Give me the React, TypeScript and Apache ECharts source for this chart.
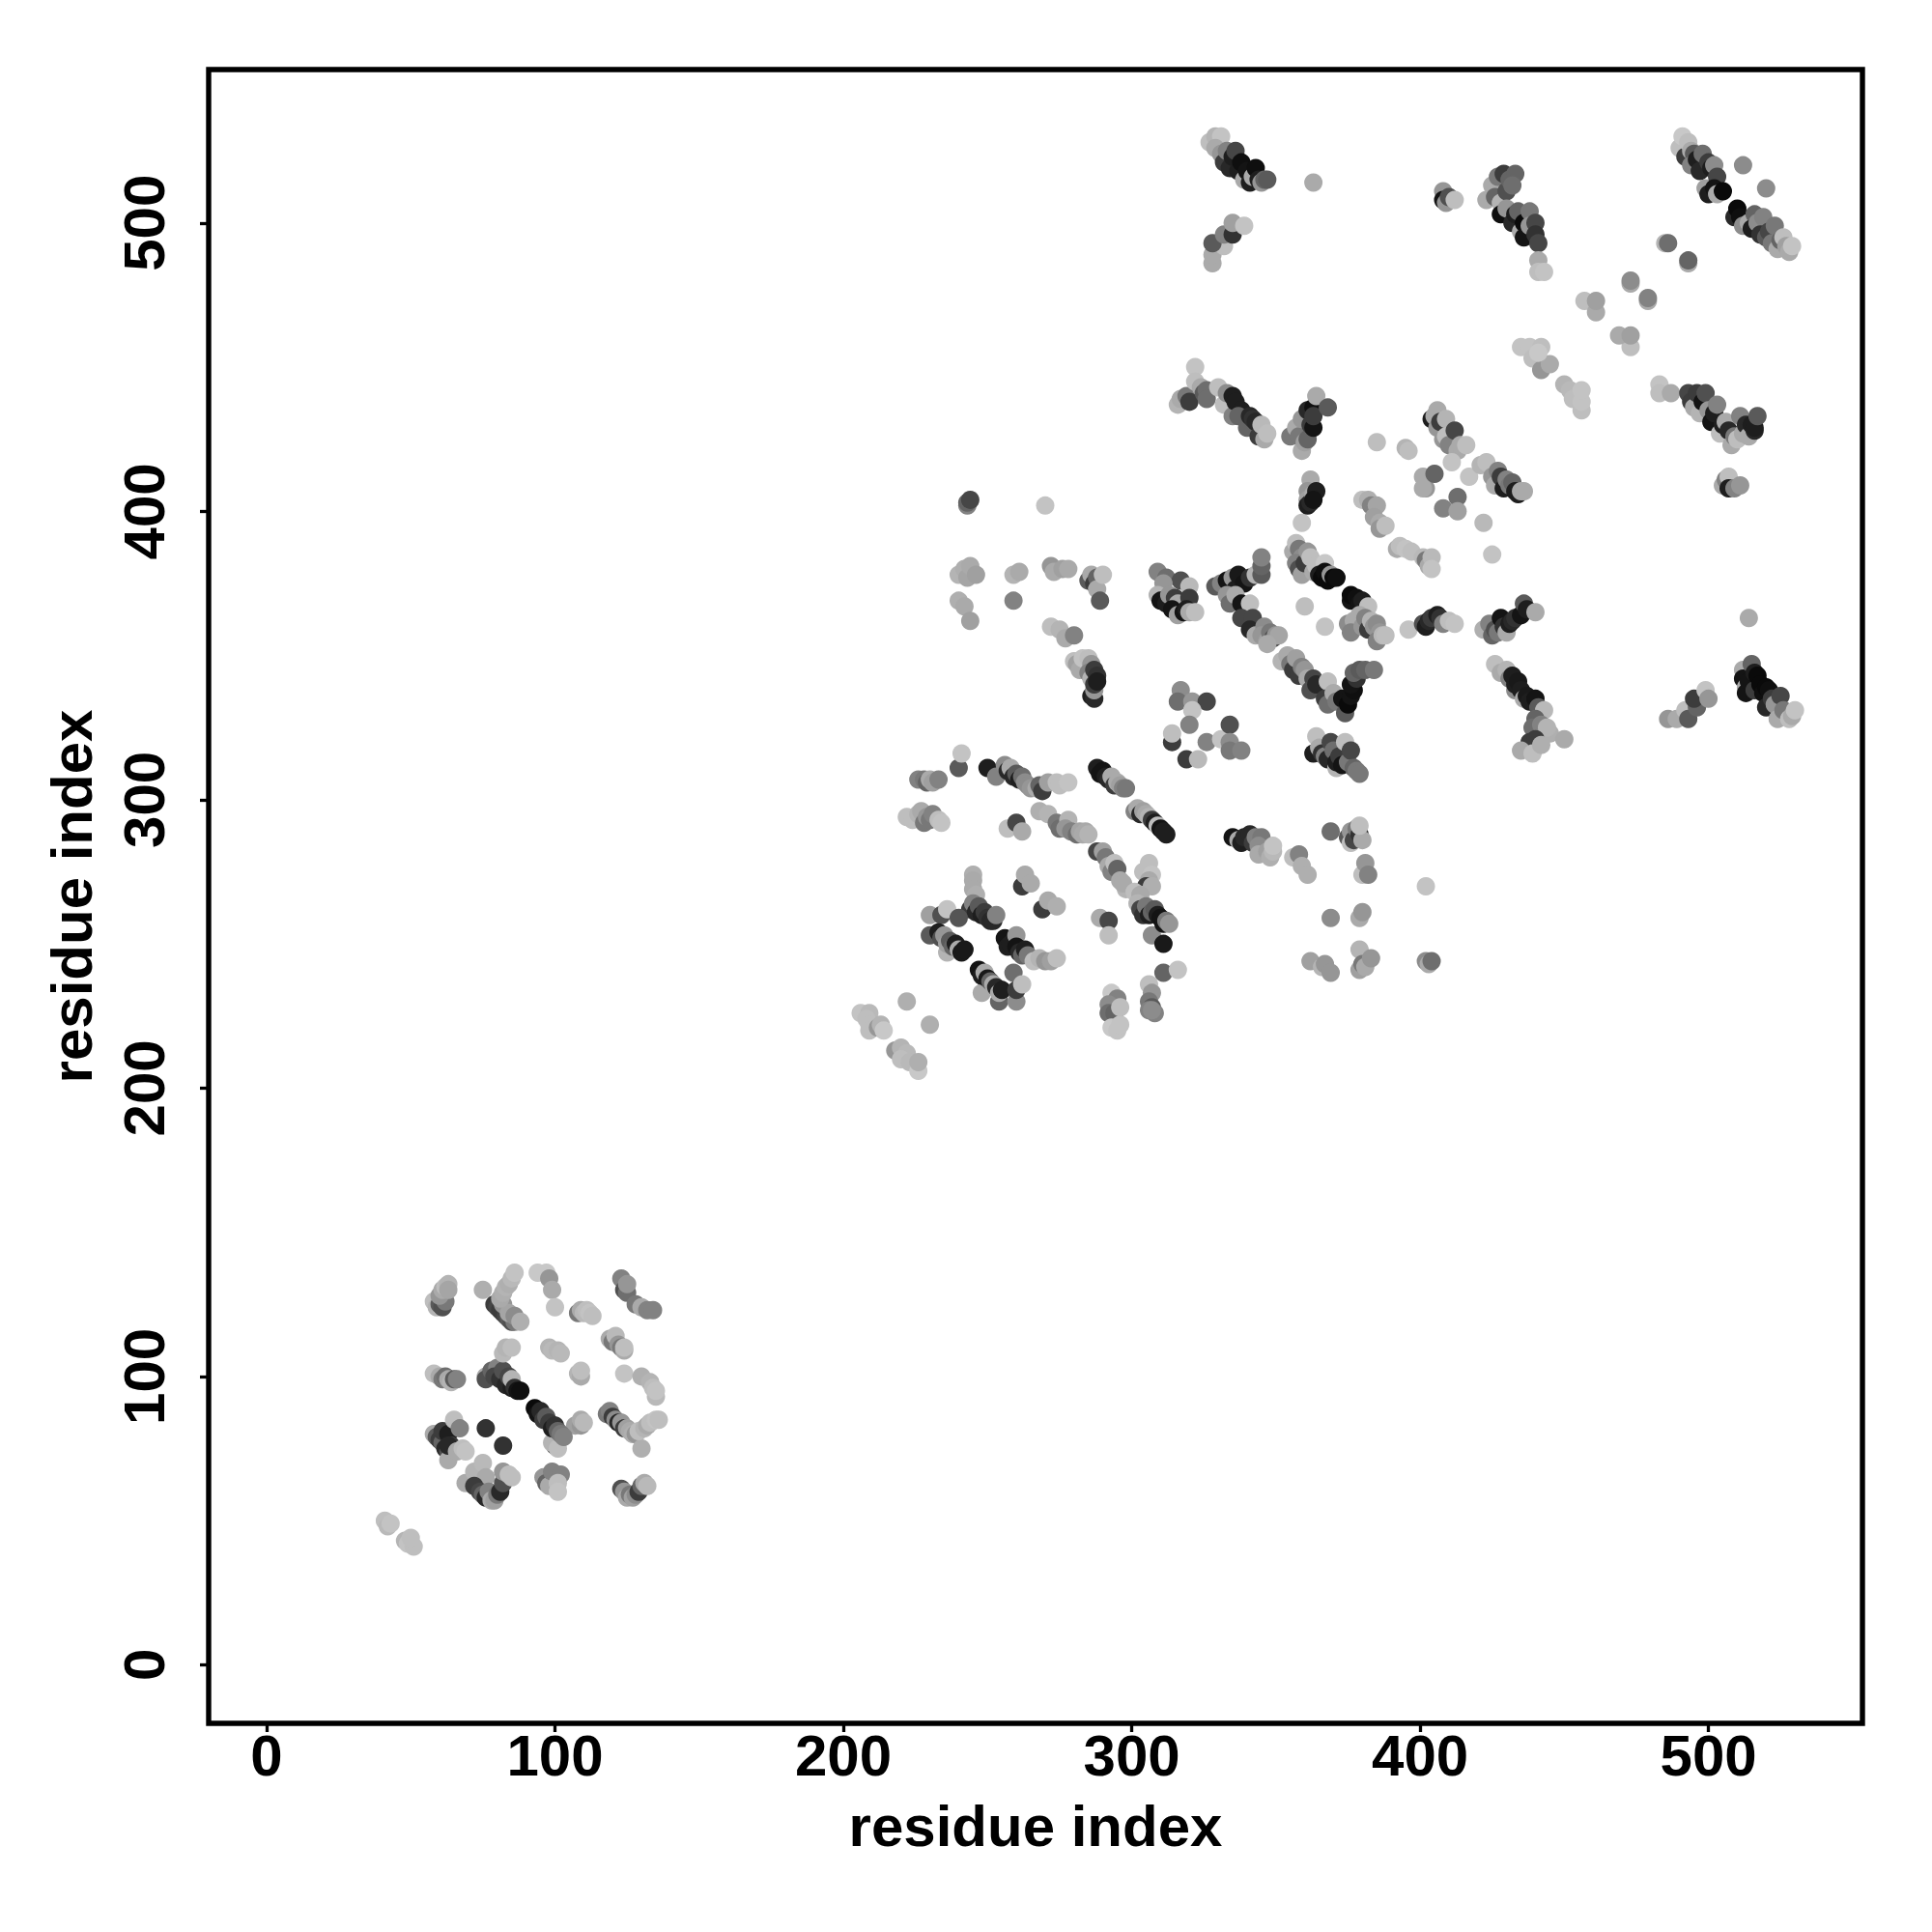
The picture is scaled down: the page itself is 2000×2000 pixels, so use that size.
import React, { useEffect, useRef } from "react";
import * as echarts from "echarts";

type P = [number, number, number];

const tickLabels = [0, 100, 200, 300, 400, 500];
const axisTitle = "residue index";

// [residue x, residue y, grey level]
const domainOneLow: P[] = [
  [41,50,190],[42,48,185],[43,49,195],[48,43,180],[49,42,195],[51,41,190],[50,44,190],
  [58,80,170],[59,79,90],[60,78,60],[61,77,100],[62,75,40],[63,74,80],[61,81,60],[63,80,30],[64,76,60],[63,71,170],[65,85,190],[67,82,130],[63,76,40],[66,74,170],[68,75,190],[69,74,195],
  [76,82,50],[82,76,50],
  [69,63,170],[72,67,180],[75,70,185],[76,65,170],[72,62,60],[74,60,70],[75,59,100],[76,58,40],[77,60,130],[78,57,170],[79,57,160],[80,59,120],[81,60,40],[82,63,80],[82,67,150],[84,66,190],[85,65,190],
  [96,65,150],[97,63,100],[98,62,170],[99,67,130],[102,66,130],[101,63,190],[101,60,195],
  [123,61,80],[124,60,150],[125,58,170],[126,59,120],[127,58,160],[128,59,140],[129,60,60],[130,62,100],[131,63,170],[132,62,185],
  [118,87,120],[119,88,130],[120,86,60],[121,85,140],[122,84,40],[123,84,150],[124,82,60],[125,82,160],[126,81,170],[127,80,175],[128,80,150],[130,75,175],[129,81,190],[131,82,180],[132,83,170],[133,84,190],[135,85,195],[136,85,190],
  [107,83,160],[109,83,150],[109,85,170],[110,84,185],
];
const domainOneMid: P[] = [
  [58,101,190],[60,100,170],[61,99,120],[62,100,110],[63,99,170],[64,98,180],[65,99,90],[66,99,130],
  [76,100,170],[76,99,80],[78,102,100],[80,103,130],[79,100,70],[81,99,50],[82,102,80],[83,97,40],[84,100,70],[85,96,30],[85,99,180],[86,96,50],[87,95,20],[88,95,15],
  [100,76,70],[99,77,180],[101,75,190],[93,89,10],[94,87,20],[95,88,40],[96,85,60],[97,86,90],[98,84,60],[99,82,30],[100,83,50],[101,81,100],[102,80,120],[103,79,130],
  [82,108,185],[83,110,180],[85,110,190],[98,110,180],[99,109,185],[101,109,180],[102,108,185],[108,101,180],[109,100,170],[109,102,190],
  [119,113,170],[120,112,120],[121,114,185],[122,111,150],[123,110,120],[124,109,170],[124,110,190],
  [124,101,195],[130,100,175],[133,98,180],[135,93,185],[134,96,190],[135,95,195],
];
const domainOneHigh: P[] = [
  [58,126,190],[59,124,180],[60,125,90],[61,124,80],[62,126,120],[60,128,150],[61,130,170],[62,131,190],[63,132,180],[63,130,165],
  [75,130,175],[79,125,60],[80,124,70],[81,123,60],[82,122,60],[83,121,70],[84,120,90],[85,119,80],[86,119,120],[82,125,150],[84,122,165],[86,121,140],[88,119,175],[81,127,170],[82,129,175],[83,131,180],[84,132,175],[85,134,185],[86,136,195],
  [94,136,200],[97,136,200],[98,134,150],[99,130,170],[100,124,195],
  [108,122,120],[109,123,170],[110,122,185],[111,123,190],[112,122,195],[113,121,190],
  [123,134,130],[124,130,80],[125,129,110],[125,132,150],[128,125,120],[130,124,170],[132,123,130],[134,123,130],
];
const tailRows: P[] = [
  [206,226,195],[209,226,185],[208,224,190],[209,222,190],[209,220,190],[212,221,150],[213,222,180],[214,220,200],
  [222,230,175],[230,222,175],
  [218,213,150],[220,214,180],[222,212,185],[220,210,190],[223,209,185],[226,206,200],[226,209,175],
  [293,233,200],[295,231,130],[292,229,140],[292,226,110],[294,226,100],[293,221,200],[295,220,195],[296,222,195],[296,228,190],
  [306,236,190],[307,233,150],[306,230,120],[307,228,90],[306,227,130],[308,226,130],[307,227,140],
];
const upperArc: P[] = [
  [226,307,130],[228,307,120],[229,306,100],[230,307,170],[231,306,160],[233,307,130],[240,311,90],[241,316,195],
  [222,294,190],[224,293,190],[226,295,180],[227,296,170],[228,292,120],[229,294,150],[230,293,120],[231,295,130],[233,293,190],[234,292,195],
  [250,311,30],[253,308,130],[256,312,140],[257,310,40],[258,311,170],[259,308,40],[260,309,90],[261,307,30],[262,308,110],[263,306,140],[264,305,140],[265,304,150],[267,304,170],
  [268,305,100],[269,303,60],[271,306,160],[274,306,190],[275,305,190],[278,306,195],
  [257,290,190],[260,292,70],[262,289,170],
  [268,296,175],[271,295,180],[274,292,120],[275,290,110],[278,293,180],[277,290,150],[279,289,130],[281,288,110],[282,289,165],[283,288,170],[284,289,170],[285,288,180],
  [288,311,30],[289,309,20],[290,310,20],[291,308,30],[292,307,40],[293,308,170],[294,305,60],[295,306,170],[296,305,160],[297,304,130],[298,304,120],
  [301,296,130],[302,297,170],[303,295,40],[304,296,160],[305,295,170],[306,294,180],[307,293,60],[308,292,30],[309,291,190],[310,290,20],[311,289,30],[312,288,30],
  [288,282,70],[290,282,160],[291,280,120],[292,277,170],[293,275,130],[294,278,190],[295,276,100],[296,272,170],[298,269,180],[297,271,170],
];
const lowerArc: P[] = [
  [245,274,175],[245,272,170],[245,269,170],[246,267,175],[244,262,60],[245,264,130],[246,261,40],[247,263,90],[248,260,30],[249,261,60],[250,259,50],[251,258,40],[252,258,40],[253,260,130],
  [230,260,160],[234,260,80],[236,262,195],[240,259,85],
  [230,253,90],[233,254,30],[234,252,80],[235,253,150],[236,247,180],[236,250,160],[237,251,90],[238,249,100],[239,250,30],[240,248,170],[241,247,25],[242,248,25],
  [262,270,60],[263,274,170],[265,271,170],[269,262,60],[271,265,170],[274,263,175],
  [256,252,20],[257,249,30],[258,250,30],[260,253,150],[260,249,20],[261,247,40],[262,246,100],[263,248,30],[264,246,120],[266,244,190],[268,245,180],[270,244,150],[272,244,160],[274,245,190],
  [248,233,170],[247,241,20],[248,239,30],[249,240,170],[250,238,25],[251,237,100],[252,236,170],[254,230,100],[253,235,40],[254,233,170],[255,234,30],
  [259,240,110],[260,230,140],[260,234,60],[262,236,190],
  [289,259,170],[292,258,70],[292,253,190],
  [306,278,190],[304,275,190],[307,274,195],[306,272,170],[305,270,60],[307,270,175],[301,268,190],[303,267,170],[302,264,180],[303,262,70],[304,260,50],[305,263,120],[306,260,30],[307,261,100],[308,262,90],[309,260,30],[310,259,20],[307,253,140],[311,257,20],[312,258,120],[313,257,150],
  [311,250,25],[311,240,100],[316,241,195],
];
const farLeftColumn: P[] = [
  [243,402,130],[243,403,100],[244,404,70],[270,402,195],
  [240,378,180],[242,380,175],[243,377,165],[244,381,170],[246,378,160],[240,369,175],[242,367,170],[244,362,160],
  [259,378,180],[261,379,170],[259,369,130],
  [272,381,150],[273,379,170],[276,380,160],[278,380,170],
  [272,360,190],[275,359,180],[277,356,170],[280,357,130],[280,348,190],[281,347,160],[282,345,170],[283,349,195],[285,349,190],[286,347,150],
  [285,344,130],[286,342,180],[286,336,30],[287,335,40],[287,338,150],[287,340,60],[287,345,60],[288,343,50],[288,341,30],
  [285,376,90],[286,378,170],[287,375,60],[288,377,100],[288,373,170],[290,378,190],[289,369,90],
];
const centreStar: P[] = [
  [309,379,130],[312,377,110],[317,376,80],[311,375,150],[309,371,180],[310,369,20],[312,368,30],[313,371,150],[315,370,60],[316,368,170],[314,366,20],[316,364,160],[318,365,20],[320,374,185],[320,370,60],[319,366,30],[320,365,170],[322,365,190],
  [329,374,90],[331,375,130],[333,376,20],[335,377,150],[336,373,30],[337,378,25],[339,375,20],[341,377,50],[343,378,180],[345,378,90],[345,381,100],[345,384,130],[333,371,150],[334,368,110],[336,371,170],[338,368,20],[341,368,190],
  [338,363,70],[342,363,70],[341,359,40],[343,357,170],[346,360,140],[345,357,150],[347,355,160],[348,358,120],[349,356,80],[350,357,150],[351,357,165],[347,354,170],
  [356,386,170],[357,389,190],[358,387,120],[359,384,140],[357,382,130],[358,380,80],[359,378,160],[360,382,60],[361,386,150],[362,384,190],[363,379,170],[364,381,190],[367,382,200],
  [365,378,30],[366,377,10],[367,379,15],[368,376,10],[369,378,150],[370,377,10],[371,377,15],
  [359,396,195],[362,411,170],[361,407,150],[361,404,160],[361,402,30],[362,403,40],[363,406,170],[364,407,30],[363,404,20],
  [360,367,190],[367,360,195],
  [376,369,20],[376,371,10],[378,370,15],[379,368,20],[380,369,30],[382,367,190],
  [375,361,140],[377,362,170],[376,358,130],[379,364,170],[380,360,150],[381,363,130],[382,359,60],[383,362,180],[384,360,150],[385,361,140],[386,358,150],[385,355,130],[387,357,185],[388,357,190],
  [396,359,195],
  [401,361,80],[402,360,30],[403,362,40],[404,363,60],[406,364,30],[407,363,50],[408,361,130],[410,362,190],[412,361,195],
  [422,359,175],[424,361,130],[425,357,100],[426,359,80],[427,358,120],[428,363,20],[429,360,50],[430,358,170],[431,361,30],[432,362,40],[433,363,50],[435,364,20],[436,368,90],[437,366,30],[440,365,170],
];
const centreLower: P[] = [
  [352,348,180],[354,350,170],[355,347,120],[356,345,60],[357,349,160],[358,343,60],[359,346,130],[360,345,150],[361,342,170],[363,342,70],[362,338,80],[364,340,40],[368,341,190],[367,335,60],[368,333,110],[370,337,170],[371,334,120],[373,335,20],[374,330,90],[375,333,10],[376,336,20],[377,338,15],[376,340,20],[378,342,50],[377,344,100],[379,345,90],[381,345,100],[384,345,120],
  [363,316,30],[364,322,190],[365,318,170],[366,316,50],[367,315,130],[368,314,40],[369,320,70],[370,317,110],[371,311,180],[371,313,30],[372,315,60],[373,312,20],[374,320,190],[375,313,120],[376,317,70],[377,311,100],[378,310,120],[379,309,120],
  [317,338,140],[316,334,110],[321,334,150],[326,334,70],[321,331,195],[320,326,130],[314,320,60],[314,323,190],[326,320,130],[331,321,195],[334,326,80],[334,320,140],[334,317,120],[338,317,130],[319,314,60],[323,314,185],
  [426,347,190],[428,344,170],[430,345,180],[431,342,130],[432,343,30],[433,338,140],[433,340,30],[434,341,25],[435,338,30],[436,335,170],[437,336,25],[438,334,30],[440,335,20],[441,332,90],[443,331,185],[440,328,100],[439,325,110],[442,326,130],[445,323,175],[444,325,180],[438,320,60],[440,321,60],[435,317,170],[439,316,190],[442,319,175],[450,321,170],
];
const centreBottom: P[] = [
  [335,287,20],[337,286,170],[338,285,30],[339,287,40],[341,288,40],[342,285,60],[343,287,130],[345,287,120],[344,284,140],[344,281,170],[347,282,160],[348,280,175],[349,282,185],[349,284,195],
  [356,280,190],[358,281,130],[359,277,175],[361,274,175],
  [369,289,110],[375,287,90],[376,289,150],[376,285,190],[377,286,70],[378,290,120],[379,288,50],[380,286,170],[379,291,190],
  [380,274,190],[381,278,150],[382,274,130],[402,270,195],
  [369,259,140],[379,259,170],[380,261,150],
  [362,244,160],[366,242,180],[367,243,150],[369,240,150],
  [379,248,180],[379,241,160],[380,243,120],[381,242,170],[383,245,150],
  [402,244,140],[403,243,170],[404,244,110],
];
const midRight: P[] = [
  [380,404,190],[382,404,175],[383,402,130],[385,402,165],[384,398,160],[386,396,170],[386,394,150],[388,395,190],
  [392,387,170],[393,388,190],[395,387,195],[397,386,190],[401,384,185],[402,383,120],[403,381,170],[404,384,185],[404,380,195],
  [402,408,150],[408,401,130],[413,405,110],[413,400,160],[422,396,185],[425,385,195],
  [385,424,190],[395,422,180],[396,421,190],
  [404,432,30],[405,433,170],[406,435,170],[406,429,150],[407,431,60],[408,425,150],[409,432,180],[409,426,190],[410,423,130],[412,428,70],[413,421,170],[414,423,170],[416,423,190],[411,417,195],
  [401,412,170],[401,408,170],[405,413,100],[417,412,195],
  [421,416,180],[423,417,190],[425,412,150],[426,409,170],[427,414,130],[428,412,60],[429,408,30],[430,411,130],[431,409,120],[432,410,100],[433,407,30],[434,406,30],[435,407,170],[436,407,170],
];
const upperBand: P[] = [
  [316,437,180],[317,439,170],[319,440,120],[320,438,60],[322,450,195],[322,445,190],[324,443,170],[325,441,90],[326,442,110],[326,439,110],[330,443,190],[332,437,190],[333,441,140],[335,440,30],[335,433,130],[336,438,30],[338,435,30],[337,433,100],[340,429,100],[341,433,40],[342,432,50],[343,431,40],[344,426,60],[345,430,185],[346,425,170],[347,427,190],
  [355,426,120],[357,429,170],[358,426,120],[359,421,170],[359,432,150],[360,424,160],[361,425,100],[361,435,40],[362,430,60],[363,436,15],[363,429,20],[363,433,60],[364,440,170],[368,436,90],
  [435,457,195],[438,457,195],[442,457,190],[439,453,190],[442,449,150],[445,451,170],[441,455,200],
  [450,444,180],[452,442,185],[453,439,190],[456,435,190],[456,438,195],[456,442,195],
  [483,444,195],[483,441,190],[487,441,170],[493,441,70],[494,438,60],[495,436,170],[496,441,60],[497,434,180],[498,438,20],[499,441,80],[500,435,150],[501,431,20],[502,434,30],[503,437,130],[504,427,190],[505,430,30],[506,431,170],[507,428,40],[508,423,170],[509,426,120],[510,425,190],[511,433,130],[512,427,170],[513,430,40],[514,426,170],[515,430,30],[516,428,40],[516,429,30],[517,433,90],
  [505,409,170],[506,411,130],[507,412,190],[507,408,30],[509,408,130],[511,409,150],
];
const topBand: P[] = [
  [327,528,190],[329,530,180],[331,530,195],[329,526,170],[331,524,150],[332,521,60],[333,525,130],[334,519,40],[335,523,30],[336,525,70],[337,518,30],[338,521,15],[339,515,170],[340,518,20],[341,514,30],[342,516,170],[343,519,15],[344,515,30],[345,514,150],[346,515,100],[347,515,90],
  [363,514,170],
  [328,486,170],[328,489,170],[332,492,190],[328,493,90],[332,496,130],[335,496,50],[335,500,160],[339,499,195],
  [408,511,150],[408,508,20],[409,507,150],[410,509,80],[412,508,190],
  [423,508,170],[425,513,170],[426,509,100],[427,516,120],[428,507,180],[429,517,60],[430,511,80],[431,515,100],[433,517,100],[432,513,110],[428,503,15],[430,505,150],[432,500,40],[433,503,30],[434,504,100],[435,497,170],[436,500,10],[436,495,20],[438,504,120],[438,499,150],[440,500,70],[440,496,50],[441,493,70],
  [441,487,170],[441,483,190],[443,483,195],
  [490,526,190],[491,530,200],[492,523,60],[493,528,190],[494,525,170],[495,524,90],[494,520,130],[496,522,30],[497,518,40],[498,524,110],[499,512,160],[500,521,60],[501,519,30],[502,520,140],[503,516,70],[500,510,30],[502,512,20],[503,510,170],[505,511,10],[512,520,140],[520,512,140],
  [509,502,40],[510,505,10],[511,502,15],[512,499,140],[514,500,170],[516,503,100],[515,498,30],[517,500,140],[519,502,130],[518,496,50],[520,495,90],[521,497,70],[522,493,120],[523,499,120],[524,491,170],[525,494,100],[526,495,190],[527,492,160],[528,490,170],[529,492,195],
  [485,493,180],[486,493,110],[493,486,170],[493,487,100],
  [473,479,170],[473,480,140],[479,473,170],[479,474,130],[457,473,190],[461,469,170],[461,473,160],
  [473,457,190],[469,461,170],[473,461,160],
];
const rightColumn: P[] = [
  [486,328,150],[489,328,170],[492,331,190],[493,328,90],[496,332,100],[495,335,60],[499,338,195],[500,335,150],
  [514,363,170],
  [512,345,170],[512,342,20],[513,339,170],[513,337,20],[514,341,20],[515,347,100],[516,344,30],[516,338,60],[517,343,10],[518,340,10],[519,337,15],[520,339,10],[521,338,15],[520,332,40],[522,335,60],[523,333,150],[524,328,170],[525,336,70],[526,331,120],[528,328,190],[529,329,170],[530,331,195],
];

const allPoints: P[] = [
  ...domainOneLow, ...domainOneMid, ...domainOneHigh, ...tailRows, ...upperArc, ...lowerArc,
  ...farLeftColumn, ...centreStar, ...centreLower, ...centreBottom, ...midRight, ...upperBand, ...topBand, ...rightColumn,
];

const FONT = "'Liberation Sans', Arial, sans-serif";

export default function App() {
  const ref = useRef<HTMLDivElement>(null);
  useEffect(() => {
    const chart = echarts.init(ref.current!, undefined, { renderer: "svg" });
    const axisCommon = {
      type: "value" as const,
      name: axisTitle,
      nameLocation: "middle" as const,
      nameMoveOverlap: false,
      nameTextStyle: { fontFamily: FONT, fontWeight: "bold" as const, fontSize: 60, color: "#000" },
      splitLine: { show: false },
      axisLine: { show: false, onZero: false },
      axisTick: { show: true, length: 9, lineStyle: { color: "#000", width: 3.3 }, customValues: tickLabels },
    };
    chart.setOption({
      animation: false,
      backgroundColor: "#fff",
      grid: { left: 216, top: 72, width: 1712, height: 1712, show: true, borderColor: "#000", borderWidth: 5.4, backgroundColor: "transparent" },
      xAxis: {
        ...axisCommon,
        min: -20.1,
        max: 553.4,
        nameGap: 76,
        axisLabel: { customValues: tickLabels, margin: 3, fontFamily: FONT, fontWeight: "bold", fontSize: 60, color: "#000", showMinLabel: true, showMaxLabel: true },
      },
      yAxis: {
        ...axisCommon,
        min: -20.3,
        max: 553.2,
        nameGap: 112,
        nameRotate: 90,
        axisLabel: { customValues: tickLabels, rotate: 90, margin: 67, fontFamily: FONT, fontWeight: "bold", fontSize: 60, color: "#000", verticalAlign: "middle", align: "center", showMinLabel: true, showMaxLabel: true },
      },
      series: [
        {
          type: "scatter",
          symbol: "circle",
          symbolSize: 19,
          silent: true,
          data: allPoints,
          encode: { x: 0, y: 1 },
          itemStyle: {
            opacity: 1,
            color: (p: any) => {
              const g = p.value[2];
              return `rgb(${g},${g},${g})`;
            },
          },
        },
      ],
    });
    return () => chart.dispose();
  }, []);
  return <div ref={ref} style={{ position: "absolute", left: 0, top: 0, width: 2000, height: 2000 }} />;
}
